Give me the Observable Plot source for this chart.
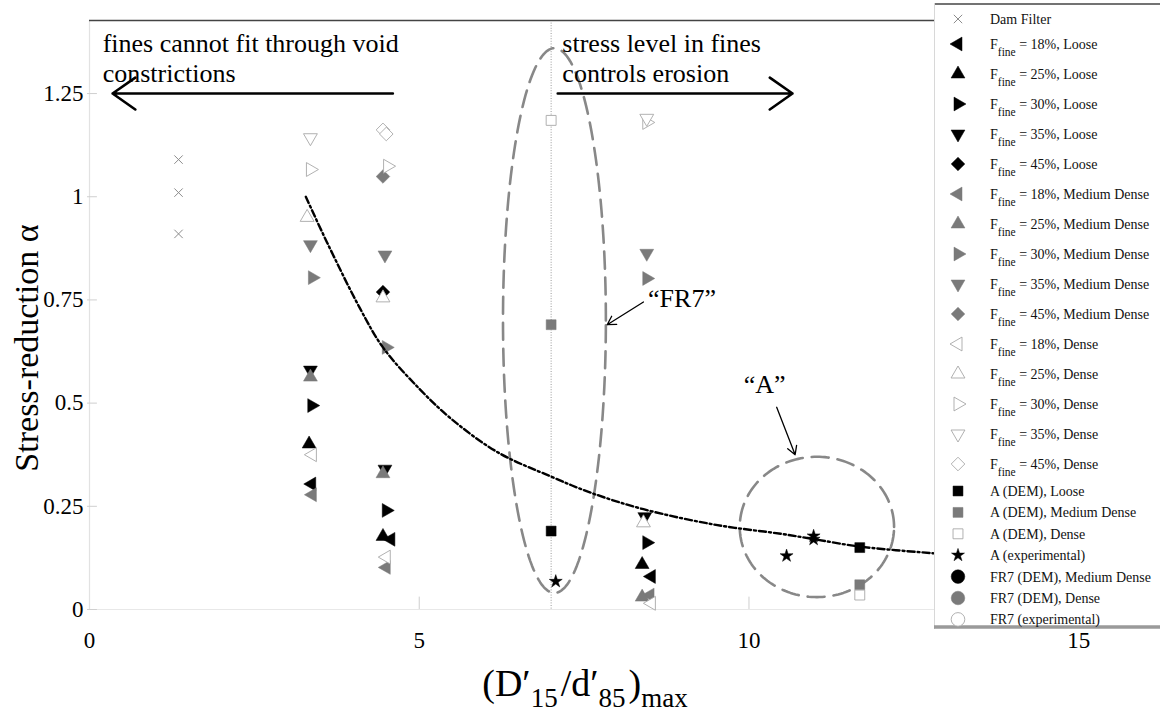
<!DOCTYPE html>
<html><head><meta charset="utf-8">
<script src="https://cdn.jsdelivr.net/npm/d3@7"></script>
<script src="https://cdn.jsdelivr.net/npm/@observablehq/plot@0.6"></script>
<style>
body{margin:0;background:#fff;}
#wrap{position:relative;width:1160px;height:720px;font-family:'Liberation Serif','Tinos','Times New Roman','DejaVu Serif',serif;}
#wrap svg, #wrap svg text, #wrap svg tspan{font-family:'Liberation Serif','Tinos','Times New Roman','DejaVu Serif',serif !important;}
#legend{position:absolute;left:934px;top:3px;}
</style></head><body><div id="wrap"></div>
<script>
// ---------- data ----------
const xTicks = [0, 5, 10, 15];
const yTicks = [0, 0.25, 0.5, 0.75, 1, 1.25];
const yTickLabels = ["0", "0.25", "0.5", "0.75", "1", "1.25"];

const damFilter  = [[1.35,1.09],[1.35,1.01],[1.35,0.91]];
const f18Loose   = [[3.37,0.304],[4.57,0.17],[8.52,0.08]];
const f25Loose   = [[3.33,0.401],[4.45,0.177],[8.38,0.109]];
const f30Loose   = [[3.37,0.494],[4.5,0.24],[8.45,0.162]];
const f35Loose   = [[3.35,0.58],[4.48,0.34],[8.42,0.225]];
const f45Loose   = [[4.45,0.769]];
const f18Med     = [[3.38,0.278],[4.5,0.102],[8.5,0.035]];
const f25Med     = [[3.35,0.563],[4.45,0.329],[8.38,0.03]];
const f30Med     = [[3.38,0.804],[4.5,0.635],[8.45,0.802]];
const f35Med     = [[3.35,0.884],[4.48,0.859],[8.45,0.863]];
const f45Med     = [[4.45,1.049]];
const f18Dense   = [[3.38,0.375],[4.5,0.127],[8.52,0.015]];
const f25Dense   = [[3.3,0.95],[4.45,0.755],[8.4,0.21]];
const f30Dense   = [[3.35,1.066],[4.52,1.074],[8.45,1.18]];
const f35Dense   = [[3.35,1.143],[8.45,1.19]];
const f45Dense   = [[4.45,1.162],[4.5,1.152]];
const aDemLoose  = [[7.0,0.19],[11.68,0.15]];
const aDemMed    = [[7.0,0.69],[11.68,0.06]];
const aDemDense  = [[7.0,1.185],[11.68,0.035]];
const aExp       = [[7.07,0.068],[10.57,0.13],[10.98,0.178],[10.98,0.17]];
const fr7DemMed  = [];
const fr7DemDense= [];
const fr7Exp     = [];

// trend curve
const curveX = [3.28, 3.6, 4.1, 4.45, 5.0, 5.5, 6.2, 7.0, 7.6, 8.4, 9.5, 10.5, 11.0, 11.7, 12.9];
const curveY = [1.0, 0.89, 0.73, 0.635, 0.535, 0.46, 0.38, 0.322, 0.283, 0.243, 0.205, 0.183, 0.17, 0.152, 0.135];

// dashed ellipses: center x, center y, radius x, radius y
const ellipseFR7 = [7.05, 0.70, 0.78, 0.66];
const ellipseA   = [11.03, 0.2, 1.17, 0.17];

// annotations
const noteText = ["fines cannot fit through void", "constrictions", "stress level in fines", "controls erosion", "\u201cFR7\u201d", "\u201cA\u201d"];
const noteX    = [0.2, 0.2, 7.17, 7.17, 8.47, 9.92];
const noteY    = [1.372, 1.297, 1.372, 1.297, 0.752, 0.545];
const arrowX1  = [4.6, 7.1, 8.40, 10.42];
const arrowY1  = [1.25, 1.25, 0.745, 0.49];
const arrowX2  = [0.35, 10.66, 7.85, 10.7];
const arrowY2  = [1.25, 1.25, 0.69, 0.375];
const dividerX = [7];

// ---------- symbols ----------
const s3 = Math.sqrt(3) / 2;
function poly(pts) {
  return {draw(ctx, size) {
    const R = Math.sqrt(size / Math.PI);
    ctx.moveTo(pts[0][0] * R, pts[0][1] * R);
    for (let i = 1; i < pts.length; i++) ctx.lineTo(pts[i][0] * R, pts[i][1] * R);
    ctx.closePath();
  }};
}
const triUp = poly([[0,-1],[s3,0.5],[-s3,0.5]]);
const triDown = poly([[0,1],[s3,-0.5],[-s3,-0.5]]);
const triRight = poly([[1,0],[-0.5,s3],[-0.5,-s3]]);
const triLeft = poly([[-1,0],[0.5,s3],[0.5,-s3]]);
const diamond = poly([[0,-0.85],[0.85,0],[0,0.85],[-0.85,0]]);
const square = poly([[-0.62,-0.62],[0.62,-0.62],[0.62,0.62],[-0.62,0.62]]);
const star = {draw(ctx, size) { d3.symbolStar.draw(ctx, size * 0.26); }};
const times = {draw(ctx, size) { const R = Math.sqrt(size / Math.PI) * 0.6; ctx.moveTo(-R,-R); ctx.lineTo(R,R); ctx.moveTo(R,-R); ctx.lineTo(-R,R); }};
const circle = {draw(ctx, size) { const R = Math.sqrt(size / Math.PI) * 0.85; ctx.moveTo(R,0); ctx.arc(0,0,R,0,2*Math.PI); }};

const BLACK = {fill: "#000", stroke: "#000", sw: 0.5};
const GRAY  = {fill: "#7a7a7a", stroke: "#7a7a7a", sw: 0.5};
const WHITE = {fill: "#fff", stroke: "#a8a8a8", sw: 0.9};

const series = [
  {data: damFilter, sym: times, st: {fill: "none", stroke: "#8c8c8c", sw: 1}, r: 7, label: ["Dam Filter"]},
  {data: f18Loose, sym: triLeft, st: BLACK, r: 8, label: ["F", "fine", " = 18%, Loose"]},
  {data: f25Loose, sym: triUp, st: BLACK, r: 8, label: ["F", "fine", " = 25%, Loose"]},
  {data: f30Loose, sym: triRight, st: BLACK, r: 8, label: ["F", "fine", " = 30%, Loose"]},
  {data: f35Loose, sym: triDown, st: BLACK, r: 8, label: ["F", "fine", " = 35%, Loose"]},
  {data: f45Loose, sym: diamond, st: BLACK, r: 8, label: ["F", "fine", " = 45%, Loose"]},
  {data: f18Med, sym: triLeft, st: GRAY, r: 8, label: ["F", "fine", " = 18%, Medium Dense"]},
  {data: f25Med, sym: triUp, st: GRAY, r: 8, label: ["F", "fine", " = 25%, Medium Dense"]},
  {data: f30Med, sym: triRight, st: GRAY, r: 8, label: ["F", "fine", " = 30%, Medium Dense"]},
  {data: f35Med, sym: triDown, st: GRAY, r: 8, label: ["F", "fine", " = 35%, Medium Dense"]},
  {data: f45Med, sym: diamond, st: GRAY, r: 8, label: ["F", "fine", " = 45%, Medium Dense"]},
  {data: f18Dense, sym: triLeft, st: WHITE, r: 8, label: ["F", "fine", " = 18%, Dense"]},
  {data: f25Dense, sym: triUp, st: WHITE, r: 8, label: ["F", "fine", " = 25%, Dense"]},
  {data: f30Dense, sym: triRight, st: WHITE, r: 8, label: ["F", "fine", " = 30%, Dense"]},
  {data: f35Dense, sym: triDown, st: WHITE, r: 8, label: ["F", "fine", " = 35%, Dense"]},
  {data: f45Dense, sym: diamond, st: WHITE, r: 8, label: ["F", "fine", " = 45%, Dense"]},
  {data: aDemLoose, sym: square, st: BLACK, r: 8, label: ["A (DEM), Loose"]},
  {data: aDemMed, sym: square, st: GRAY, r: 8, label: ["A (DEM), Medium Dense"]},
  {data: aDemDense, sym: square, st: WHITE, r: 8, label: ["A (DEM), Dense"]},
  {data: aExp, sym: star, st: BLACK, r: 8, label: ["A (experimental)"]},
  {data: fr7DemMed, sym: circle, st: BLACK, r: 8, label: ["FR7 (DEM), Medium Dense"]},
  {data: fr7DemDense, sym: circle, st: GRAY, r: 8, label: ["FR7 (DEM), Dense"]},
  {data: fr7Exp, sym: circle, st: WHITE, r: 8, label: ["FR7 (experimental)"]}
];

// ---------- derived tables ----------
const curve = curveX.map((x, i) => ({x, y: curveY[i]}));
function ellipsePts(e) {
  return d3.range(0, 361, 2).map(a => ({x: e[0] + e[2] * Math.cos(a * Math.PI / 180), y: e[1] + e[3] * Math.sin(a * Math.PI / 180)}));
}
const notes = noteText.map((t, i) => ({t, x: noteX[i], y: noteY[i]}));
const arrows = arrowX1.map((x1, i) => ({x1, y1: arrowY1[i], x2: arrowX2[i], y2: arrowY2[i], big: i < 2}));
const yTop = 1.427;

const dotMarks = series.map(s => Plot.dot(s.data, {
  x: d => d[0], y: d => d[1], symbol: s.sym, r: s.r,
  fill: s.st.fill, stroke: s.st.stroke, strokeWidth: s.st.sw
}));

const chart = Plot.plot({
  width: 1160, height: 720,
  marginLeft: 89, marginRight: 0, marginTop: 20, marginBottom: 111,
  style: {color: "#000", background: "#fff"},
  x: {domain: [0, 16.24]},
  y: {domain: [0, yTop]},
  marks: [
    Plot.ruleX(dividerX, {stroke: "#9a9a9a", strokeWidth: 1, strokeDasharray: "1,1.6"}),
    Plot.ruleX([0], {stroke: "#e2e2e2", strokeWidth: 1.2}),
    Plot.ruleY([0], {stroke: "#e8e8e8", strokeWidth: 1.2}),
    Plot.ruleY([yTop], {stroke: "#444", strokeWidth: 1.5}),
    Plot.ruleX(xTicks.slice(1), {y1: 0, y2: 0.03, stroke: "#cfcfcf"}),
    Plot.ruleY(yTicks, {x1: -0.03, x2: 0.12, stroke: "#cfcfcf"}),
    Plot.axisX({ticks: xTicks, tickSize: 0, tickPadding: 22, fontSize: 23, label: null, tickFormat: d => String(d)}),
    Plot.axisY({ticks: yTicks, tickSize: 0, tickPadding: 6, fontSize: 23, label: null, tickFormat: d => yTickLabels[yTicks.indexOf(d)]}),
    Plot.line(ellipsePts(ellipseFR7), {x: "x", y: "y", stroke: "#888", strokeWidth: 2.6, strokeDasharray: "17,9"}),
    Plot.line(ellipsePts(ellipseA), {x: "x", y: "y", stroke: "#888", strokeWidth: 2.6, strokeDasharray: "17,9"}),
    ...dotMarks,
    Plot.line(curve, {x: "x", y: "y", curve: "catmull-rom", stroke: "#000", strokeWidth: 2.4, strokeDasharray: "7,3,2,3"}),
    Plot.arrow(arrows.filter(d => d.big), {x1: "x1", y1: "y1", x2: "x2", y2: "y2", stroke: "#000", strokeWidth: 2.6, headLength: 16, headAngle: 70}),
    Plot.arrow(arrows.filter(d => !d.big), {x1: "x1", y1: "y1", x2: "x2", y2: "y2", stroke: "#000", strokeWidth: 1.3, headLength: 11, headAngle: 60}),
    Plot.text(notes, {x: "x", y: "y", text: "t", textAnchor: "start", fontSize: 26, fill: "#000"})
  ]
});
const wrap = document.getElementById("wrap");
wrap.appendChild(chart);

// axis titles with subscripts
const svg = d3.select(chart);
const xt = svg.append("text").attr("x", 585).attr("y", 696).attr("text-anchor", "middle")
  .attr("font-size", 38).attr("fill", "#000");
xt.append("tspan").text("(D\u2032");
xt.append("tspan").attr("font-size", 27).attr("dy", 11).text("15");
xt.append("tspan").attr("dy", -11).attr("dx", 3).text("/d\u2032");
xt.append("tspan").attr("font-size", 27).attr("dy", 11).text("85");
xt.append("tspan").attr("dy", -11).attr("dx", 3).text(")");
xt.append("tspan").attr("font-size", 27).attr("dy", 11).text("max");

svg.append("text").attr("transform", "translate(38,348) rotate(-90)").attr("text-anchor", "middle")
  .attr("font-size", 34).attr("fill", "#000").text("Stress-reduction \u03b1");

// ---------- legend ----------
const LW = 226, LH = 626;
const leg = d3.select(wrap).append("svg").attr("id", "legend").attr("width", LW).attr("height", LH);
leg.append("rect").attr("width", LW).attr("height", LH).attr("fill", "#fff");
leg.append("line").attr("x1", 0).attr("x2", LW).attr("y1", 1).attr("y2", 1).attr("stroke", "#444").attr("stroke-width", 1.5);
leg.append("line").attr("x1", 0.5).attr("x2", 0.5).attr("y1", 0).attr("y2", LH).attr("stroke", "#d8d8d8");
leg.append("line").attr("x1", 0).attr("x2", LW).attr("y1", LH - 2).attr("y2", LH - 2).attr("stroke", "#9a9a9a").attr("stroke-width", 3.5);
series.forEach((s, i) => {
  const cy = i === 0 ? 16 : i <= 15 ? 41 + 30 * (i - 1) : 488 + 21.4 * (i - 16);
  const p = d3.path();
  s.sym.draw(p, s.r * s.r * Math.PI);
  leg.append("path").attr("d", p.toString()).attr("transform", `translate(24,${cy})`)
    .attr("fill", s.st.fill).attr("stroke", s.st.stroke).attr("stroke-width", s.st.sw);
  const t = leg.append("text").attr("x", 56).attr("y", cy + 5).attr("font-size", 14).attr("fill", "#111");
  if (s.label.length === 3) {
    t.append("tspan").text(s.label[0]);
    t.append("tspan").attr("font-size", 11.5).attr("dy", 7).text(s.label[1]);
    t.append("tspan").attr("dy", -7).text(s.label[2]);
  } else {
    t.text(s.label[0]);
  }
});
</script>
</body></html>
